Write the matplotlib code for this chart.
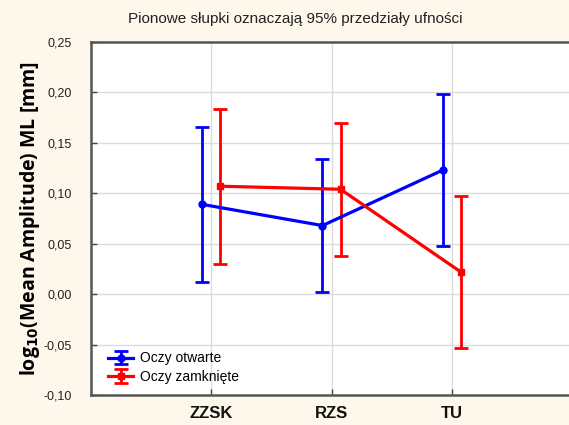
import matplotlib
matplotlib.use("Agg")
import matplotlib.pyplot as plt
import numpy as np

categories = ["ZZSK", "RZS", "TU"]
open_mean = [0.089, 0.068, 0.123]
open_low = [0.012, 0.002, 0.048]
open_high = [0.166, 0.134, 0.198]
closed_mean = [0.107, 0.104, 0.022]
closed_low = [0.030, 0.038, -0.053]
closed_high = [0.184, 0.170, 0.097]
yticks = [-0.10, -0.05, 0.00, 0.05, 0.10, 0.15, 0.20, 0.25]
series_names = ["Oczy otwarte", "Oczy zamknięte"]
title = "Pionowe słupki oznaczają 95% przedziały ufności"
ylabel = r"log$_{\mathbf{10}}$(Mean Amplitude) ML [mm]"

bg = "#fef8ec"
fig = plt.figure(figsize=(5.69, 4.25), dpi=100, facecolor=bg)
ax = fig.add_axes([91/569, 1 - 395/425, (572 - 91)/569, (395 - 42)/425])
ax.set_facecolor("white")

x = np.arange(1, len(categories) + 1)
off = 0.075

def draw(xpos, mean, low, high, color, marker, label):
    mean = np.array(mean); low = np.array(low); high = np.array(high)
    yerr = np.vstack([mean - low, high - mean])
    return ax.errorbar(xpos, mean, yerr=yerr, color=color, lw=2.3, elinewidth=2.0,
                       capsize=5, capthick=2.0, marker=marker, markersize=5,
                       label=label, zorder=3)

draw(x - off, open_mean, open_low, open_high, "#0000ff", "o", series_names[0])
draw(x + off, closed_mean, closed_low, closed_high, "#ff0000", "s", series_names[1])

ax.set_xlim(0, 4)
ax.set_ylim(-0.10, 0.25)
ax.set_xticks(x)
ax.set_xticklabels(categories, fontsize=12, fontweight="bold", fontfamily="Liberation Sans",
                   color="#111111")
ax.set_yticks(yticks)
ax.set_yticklabels([f"{v:.2f}".replace(".", ",") for v in yticks],
                   fontsize=9, fontfamily="Liberation Sans", color="#222222")
ax.tick_params(axis="both", direction="in", length=4, width=1, color="#444444")
ax.tick_params(axis="y", pad=14)
ax.tick_params(axis="x", pad=8)
ax.grid(True, color="#dcdcdc", lw=1.0, zorder=0)
ax.set_axisbelow(True)

for side in ["left", "bottom", "top"]:
    ax.spines[side].set_color("#555555")
    ax.spines[side].set_linewidth(1.8)
ax.spines["right"].set_visible(False)

ax.set_ylabel(ylabel, fontsize=14, fontweight="bold", fontfamily="Open Sans")
ax.yaxis.set_label_coords(-0.102, 0.5)

fig.text(295/569, 1 - 19/425, title, ha="center", va="center", fontsize=11,
         fontfamily="Liberation Sans", color="#222222")

leg = ax.legend(loc="lower left", bbox_to_anchor=(0.01, -0.005), frameon=False,
                handlelength=1.8, labelspacing=0.35, handletextpad=0.5,
                prop={"family": "Liberation Sans", "size": 10})

fig.savefig("out.png", dpi=100, facecolor=bg)
